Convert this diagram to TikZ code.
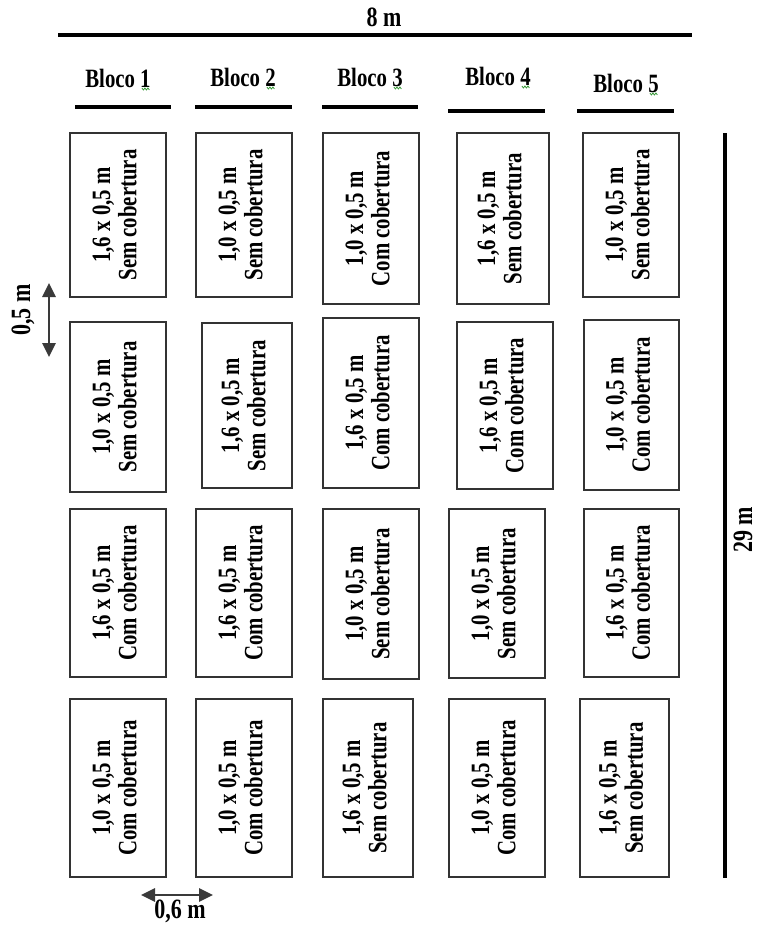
\documentclass[tikz,border=0pt]{standalone}
\usepackage{fontspec}
\setmainfont{Liberation Serif}
\usepackage{graphicx}
\usetikzlibrary{arrows.meta}

\definecolor{edge}{HTML}{333333}
\definecolor{spell}{HTML}{3A9A3A}
\definecolor{arrowgray}{HTML}{3A3A3A}

\newcommand\vlab[2]{\rotatebox{90}{\scalebox{1}[1.27]{\fontsize{15.6}{15.4}\selectfont\bfseries\begin{tabular}{@{}c@{}}#1\\#2\end{tabular}}}}
\newcommand\stretchtxt[1]{\scalebox{1}[1.27]{#1}}

\newcommand\plotbox[7]{%
  \pgfmathsetmacro\pbx{(#2+#4)/2}%
  \pgfmathsetmacro\pby{(#3+#5)/2}%
  \pgfmathsetmacro\pbw{(#4-#2)*0.75}%
  \pgfmathsetmacro\pbh{(#5-#3)*0.75}%
  \node[plotbox, minimum width=\pbw pt, minimum height=\pbh pt] (#1) at (\pbx,\pby) {\vlab{#6}{#7}};%
}

\begin{document}
\begin{tikzpicture}[x=0.75pt,y=-0.75pt,
  plotbox/.style={draw=edge, line width=1.1pt, inner sep=0pt, rectangle},
  hdr/.style={inner sep=0pt, font=\fontsize{15.6}{18}\selectfont\bfseries},
  dimlab/.style={inner sep=0pt, font=\fontsize{16.5}{19}\selectfont\bfseries},
  thickline/.style={line width=2.3pt, black},
  dimarrow/.style={arrowgray, line width=1.6pt, {Triangle[length=10.5pt,width=10pt]}-{Triangle[length=10.5pt,width=10pt]}},
  squig/.style={spell, line width=0.6pt}
]
\useasboundingbox (0,0) rectangle (757,928);

% overall width
\coordinate (wL) at (58,35);
\coordinate (wR) at (692,35);
\draw[thickline] (wL) -- (wR);
\node[dimlab] (w8) at (384,17) {\stretchtxt{8 m}};

% block headers
\node[hdr] (h1) at (118,78) {\stretchtxt{Bloco 1}};
\node[hdr] (h2) at (243,77) {\stretchtxt{Bloco 2}};
\node[hdr] (h3) at (370,77) {\stretchtxt{Bloco 3}};
\node[hdr] (h4) at (498,76) {\stretchtxt{Bloco 4}};
\node[hdr] (h5) at (626,83) {\stretchtxt{Bloco 5}};
\foreach \h in {h1,h2,h3,h4,h5}{
  \draw[squig] (\h.east) ++(-9,10) -- ++(1.5,2) -- ++(1.5,-2) -- ++(1.5,2) -- ++(1.5,-2) -- ++(1.5,2);
}
\coordinate (u1a) at (75,107);  \coordinate (u1b) at (171,107);
\coordinate (u2a) at (195,107); \coordinate (u2b) at (292,107);
\coordinate (u3a) at (322,107); \coordinate (u3b) at (418,107);
\coordinate (u4a) at (448,111); \coordinate (u4b) at (545,111);
\coordinate (u5a) at (577,111); \coordinate (u5b) at (674,111);
\foreach \u in {1,...,5}{ \draw[thickline] (u\u a) -- (u\u b); }

% row 1
\plotbox{p11}{70}{133}{166}{297}{1,6 x 0,5 m}{Sem cobertura}
\plotbox{p12}{196}{133}{292}{297}{1,0 x 0,5 m}{Sem cobertura}
\plotbox{p13}{323}{133}{419}{304}{1,0 x 0,5 m}{Com cobertura}
\plotbox{p14}{457}{133}{549}{304}{1,6 x 0,5 m}{Sem cobertura}
\plotbox{p15}{583}{133}{679}{297}{1,0 x 0,5 m}{Sem cobertura}
% row 2
\plotbox{p21}{70}{322}{166}{492}{1,0 x 0,5 m}{Sem cobertura}
\plotbox{p22}{202}{323}{292}{488}{1,6 x 0,5 m}{Sem cobertura}
\plotbox{p23}{323}{318}{419}{488}{1,6 x 0,5 m}{Com cobertura}
\plotbox{p24}{457}{322}{553}{489}{1,6 x 0,5 m}{Com cobertura}
\plotbox{p25}{584}{320}{679}{490}{1,0 x 0,5 m}{Com cobertura}
% row 3
\plotbox{p31}{70}{509}{166}{677}{1,6 x 0,5 m}{Com cobertura}
\plotbox{p32}{196}{509}{292}{677}{1,6 x 0,5 m}{Com cobertura}
\plotbox{p33}{323}{509}{419}{679}{1,0 x 0,5 m}{Sem cobertura}
\plotbox{p34}{449}{509}{545}{678}{1,0 x 0,5 m}{Sem cobertura}
\plotbox{p35}{584}{509}{679}{677}{1,6 x 0,5 m}{Com cobertura}
% row 4
\plotbox{p41}{70}{699}{166}{877}{1,0 x 0,5 m}{Com cobertura}
\plotbox{p42}{196}{699}{292}{877}{1,0 x 0,5 m}{Com cobertura}
\plotbox{p43}{323}{699}{413}{877}{1,6 x 0,5 m}{Sem cobertura}
\plotbox{p44}{449}{699}{545}{877}{1,0 x 0,5 m}{Com cobertura}
\plotbox{p45}{580}{699}{669}{877}{1,6 x 0,5 m}{Sem cobertura}

% overall length
\coordinate (lT) at (725,133);
\coordinate (lB) at (725,878);
\draw[thickline] (lT) -- (lB);
\node[dimlab, rotate=90] (l29) at (743,530) {\stretchtxt{29 m}};

% spacing between rows
\coordinate (s1) at (49,283);
\coordinate (s2) at (49,357);
\draw[dimarrow] (s1) -- (s2);
\node[dimlab, rotate=90] (s05) at (23,310) {\stretchtxt{0,5 m}};

% spacing between columns
\coordinate (c1) at (141,895);
\coordinate (c2) at (213,895);
\draw[dimarrow] (c1) -- (c2);
\node[dimlab] (c06) at (180,911) {\stretchtxt{0,6 m}};
\end{tikzpicture}
\end{document}
